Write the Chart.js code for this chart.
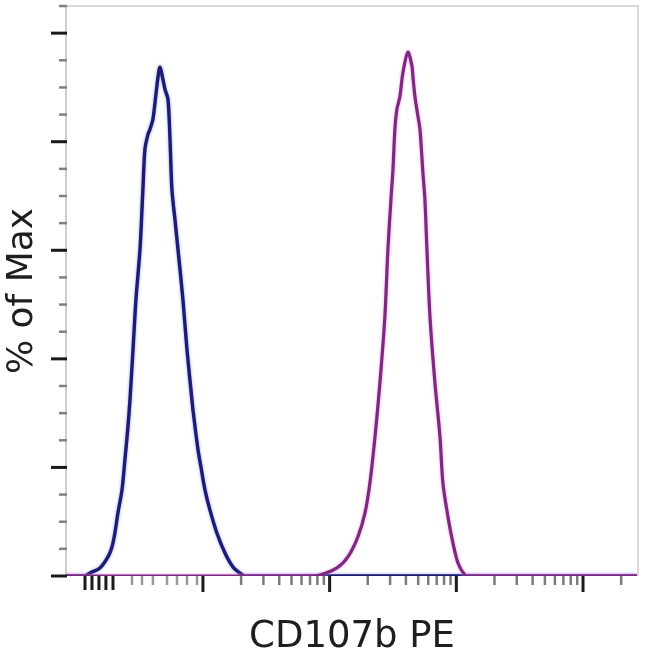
<!DOCTYPE html>
<html>
<head>
<meta charset="utf-8">
<script src="https://cdn.jsdelivr.net/npm/chart.js@4"></script>
<style>
html,body{margin:0;padding:0;background:#fff;}
#wrap{width:650px;height:667px;}
</style>
</head>
<body>
<div id="wrap"><canvas id="c" width="650" height="667"></canvas></div>
<script>
// ---- data (x in display decades, y in % of Max) ----
const blueX = [1.919,2.069,2.108,2.187,2.250,2.282,2.305,2.329,2.361,2.384,2.408,2.424,2.448,2.471,2.503,2.526,2.542,2.566,2.582,2.605,2.629,2.645,2.661,2.684,2.700,2.724,2.740,2.755,2.779,2.803,2.842,2.874,2.913,2.921,2.961,2.984,3.016,3.055,3.110,3.174,3.237,3.292,3.331,6.434];
const blueY = [0,0,0.55,1.48,3.51,5.35,7.93,11.62,15.87,21.40,27.49,32.47,41.70,50.92,60.15,71.22,78.60,81.36,82.29,84.13,88.74,91.88,93.73,91.51,89.67,87.82,80.44,71.22,65.68,60.15,50.92,41.70,32.47,30.63,23.25,20.11,15.87,12.18,7.93,4.24,1.66,0.55,0,0];

const magentaX = [1.919,3.845,3.923,4.058,4.144,4.223,4.279,4.318,4.358,4.397,4.436,4.460,4.484,4.500,4.515,4.531,4.555,4.579,4.618,4.650,4.657,4.673,4.697,4.713,4.736,4.752,4.768,4.792,4.831,4.871,4.894,4.934,4.973,5.013,5.068,5.107,6.434];
const magentaY = [0,0,0.18,1.48,3.51,7.20,11.62,17.16,25.65,35.61,47.79,60.15,69.37,74.91,82.29,85.98,88.38,92.80,96.49,93.91,92.07,88.38,84.69,82.29,74.35,69.37,60.15,47.79,35.61,25.65,17.16,10.89,6.09,2.40,0.18,0,0];

// ---- axis ticks ----
const yMajorTicks = [0,20,40,60,80,100];
const yMinorTicks = [5,10,15,25,30,35,45,50,55,65,70,75,85,90,95,105];
const xMajorTicks = [3,4,5,6];
const xLinearTicks = [2.069,2.124,2.179,2.234,2.290];
const xFaintTicks = [2.440,2.519,2.605,2.716,2.795,2.874,2.953];
const xDecadeMinor = [2,3,4,5,6,7,8,9];
const xRange = [1.919, 6.434];
const yRange = [0, 105];
const xTitle = 'CD107b PE';
const yTitle = '% of Max';

function toPts(xs, ys){ return xs.map((v,i)=>({x:v,y:ys[i]})); }

const frameTicks = {
  id:'frameTicks',
  afterDraw(chart){
    const {ctx, chartArea:a, scales:{x,y}} = chart;
    ctx.save();
    ctx.lineCap = 'butt';
    ctx.strokeStyle = '#dadada';
    ctx.lineWidth = 2;
    ctx.beginPath();
    ctx.moveTo(a.left, a.top); ctx.lineTo(a.right, a.top); ctx.lineTo(a.right, a.bottom);
    ctx.stroke();
    const yt = (v, len, w, col) => {
      const p = y.getPixelForValue(v);
      ctx.strokeStyle = col; ctx.lineWidth = w;
      ctx.beginPath(); ctx.moveTo(a.left - len, p); ctx.lineTo(a.left + 1, p); ctx.stroke();
    };
    yMinorTicks.forEach(v => yt(v, 7, 2.5, '#808080'));
    yMajorTicks.forEach(v => yt(v, 15, 3, '#1a1a1a'));
    const xt = (v, len, w, col) => {
      const p = x.getPixelForValue(v);
      ctx.strokeStyle = col; ctx.lineWidth = w;
      ctx.beginPath(); ctx.moveTo(p, a.bottom); ctx.lineTo(p, a.bottom + len); ctx.stroke();
    };
    xMajorTicks.forEach(d => {
      xDecadeMinor.forEach(k => {
        const v = d + Math.log10(k);
        if (v < xRange[1]) xt(v, 9, 2.5, '#7a7a7a');
      });
    });
    xFaintTicks.forEach(v => xt(v, 9, 2.5, '#999'));
    xLinearTicks.forEach(v => xt(v, 14, 3, '#1a1a1a'));
    xMajorTicks.forEach(v => xt(v, 16, 3, '#1a1a1a'));
    ctx.restore();
  }
};

const glow = {
  id:'glow',
  beforeDatasetDraw(chart, args){
    const ctx = chart.ctx;
    ctx.save();
    ctx.shadowColor = args.index === 0 ? 'rgba(235,130,235,0.8)' : 'rgba(130,130,235,0.8)';
    ctx.shadowBlur = 3;
  },
  afterDatasetDraw(chart){ chart.ctx.restore(); }
};

new Chart(document.getElementById('c'), {
  type: 'scatter',
  data: {
    datasets: [
      { label:'CD107b PE', data: toPts(magentaX, magentaY), showLine:true, borderColor:'#7c2a80', borderWidth:3.2, pointRadius:0, tension:0.3 },
      { label:'Isotype', data: toPts(blueX, blueY), showLine:true, borderColor:'#1c1c74', borderWidth:3.4, pointRadius:0, tension:0.3 }
    ]
  },
  options: {
    responsive:false, animation:false, maintainAspectRatio:false,
    layout:{ padding:{ top:6, right:12, left:0, bottom:0 } },
    plugins:{ legend:{display:false}, tooltip:{enabled:false} },
    scales:{
      x:{
        type:'linear', min:xRange[0], max:xRange[1],
        grid:{ display:false },
        border:{ display:false },
        ticks:{ display:false },
        title:{ display:true, text:xTitle, color:'#1e1e1e', font:{ family:'DejaVu Sans', size:37 }, padding:{top:0,bottom:7} },
        afterFit(s){ s.height = 91; }
      },
      y:{
        type:'linear', min:yRange[0], max:yRange[1],
        grid:{ display:false },
        border:{ display:true, color:'#cfcfcf', width:2 },
        ticks:{ display:false },
        title:{ display:true, text:yTitle, color:'#1e1e1e', font:{ family:'DejaVu Sans', size:36 }, padding:{top:1,bottom:0} },
        afterFit(s){ s.width = 66; }
      }
    }
  },
  plugins:[frameTicks, glow]
});
</script>
</body>
</html>
